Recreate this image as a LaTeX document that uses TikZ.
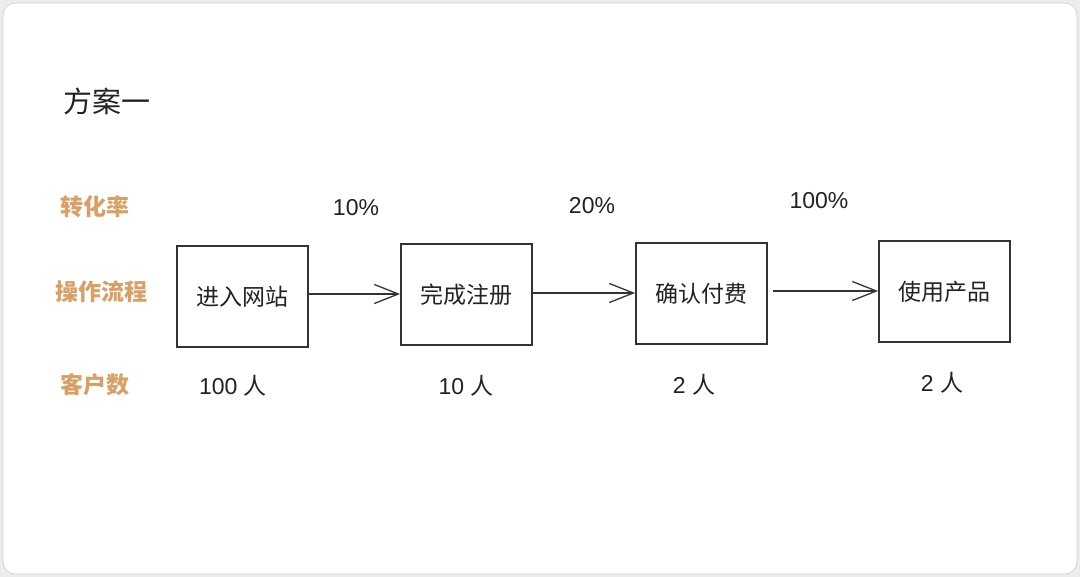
\documentclass[tikz,border=0pt]{standalone}
\usepackage{fontspec}
\setmainfont{Noto Sans CJK SC}
\newfontfamily\latinf{Liberation Sans}
\usetikzlibrary{arrows.meta}
\definecolor{lbl}{HTML}{D9A066}
\definecolor{ink}{HTML}{222222}
\definecolor{edge}{HTML}{333333}
\definecolor{outer}{HTML}{ECECEC}
\tikzset{
  stepbox/.style={draw=edge,line width=1.8pt,minimum width=131pt,minimum height=101pt,inner sep=0pt,font=\fontsize{23}{27}\selectfont,text=ink},
  rowlbl/.style={font=\fontsize{23}{27}\selectfont\bfseries,text=lbl},
  val/.style={font=\fontsize{23}{27}\selectfont,text=ink},
  flow/.style={draw=edge,line width=1.3pt,-{Straight Barb[length=24pt,width=19pt,line width=1.3pt]}}
}
\begin{document}
\begin{tikzpicture}[x=1pt,y=-1pt]
\fill[outer] (0,0) rectangle (1080,577);
\useasboundingbox (0,0) rectangle (1080,577);
\draw[fill=white,draw=black!18,line width=0.8pt,rounded corners=12pt] (3,3) rectangle (1077,574);
\node[font=\fontsize{29}{34}\selectfont,text=ink] (title) at (107,101) {方案一};
\node[rowlbl] (l1) at (95,207) {转化率};
\node[rowlbl] (l2) at (102,292) {操作流程};
\node[rowlbl] (l3) at (95,385) {客户数};
\node[stepbox] (b1) at (242.5,296.5) {进入网站};
\node[stepbox] (b2) at (466.5,294.5) {完成注册};
\node[stepbox] (b3) at (701.5,293.5) {确认付费};
\node[stepbox] (b4) at (944.5,291.5) {使用产品};
\node[val] (p1) at (356,208) {\latinf 10\%};
\node[val] (p2) at (592,206) {\latinf 20\%};
\node[val] (p3) at (819,201) {\latinf 100\%};
\node[val] (c1) at (233,386) {{\latinf 100 }人};
\node[val] (c2) at (466,386) {{\latinf 10 }人};
\node[val] (c3) at (694,385) {{\latinf 2 }人};
\node[val] (c4) at (942,383) {{\latinf 2 }人};
\draw[flow] (b1.east |- 0,294) -- (b2.west |- 0,294);
\draw[flow] (b2.east |- 0,293) -- (b3.west |- 0,293);
\draw[flow,shorten <=5pt] (b3.east |- 0,291) -- (b4.west |- 0,291);
\end{tikzpicture}
\end{document}
